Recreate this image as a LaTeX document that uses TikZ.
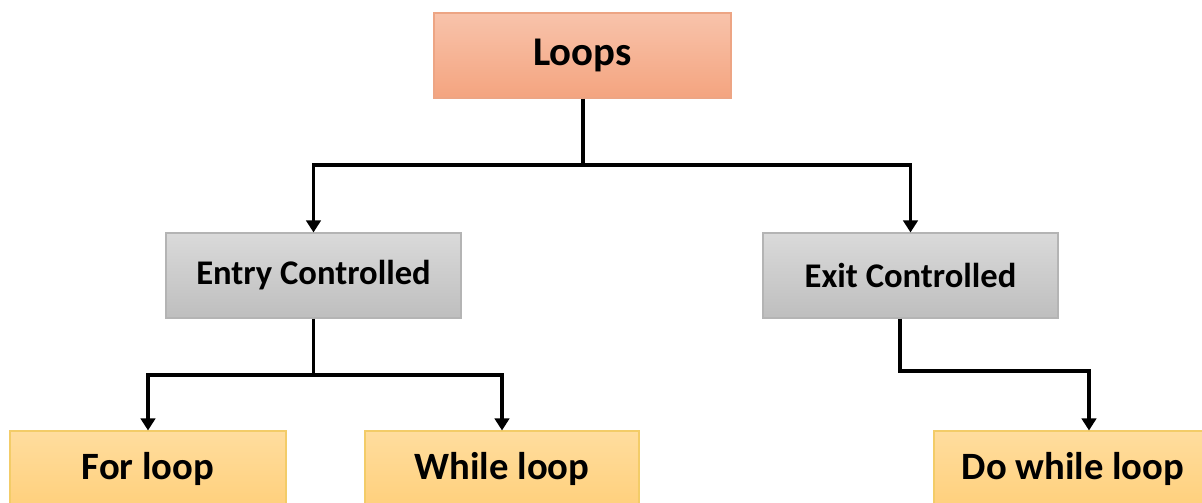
\documentclass[tikz,border=0pt]{standalone}
\usepackage{fontspec}
\setmainfont{Carlito}
\usetikzlibrary{arrows.meta}

\definecolor{peachtop}{HTML}{F8C3AB}
\definecolor{peachbot}{HTML}{F4A47F}
\definecolor{peachline}{HTML}{EDA584}
\definecolor{graytop}{HTML}{DADADA}
\definecolor{graybot}{HTML}{BEBEBE}
\definecolor{grayline}{HTML}{B4B4B4}
\definecolor{yellowtop}{HTML}{FFDD9E}
\definecolor{yellowbot}{HTML}{FFD07C}
\definecolor{yellowline}{HTML}{F3CC68}

\tikzset{
  loopsbox/.style={rectangle, draw=peachline, line width=0.8pt, top color=peachtop, bottom color=peachbot,
    minimum width=297*0.025cm, minimum height=85*0.025cm, inner sep=0pt,
    font=\fontsize{29}{34}\selectfont\bfseries},
  ctrlbox/.style={rectangle, draw=grayline, line width=0.8pt, top color=graytop, bottom color=graybot,
    minimum width=295*0.025cm, minimum height=85*0.025cm, inner sep=0pt,
    font=\fontsize{24.6}{29}\selectfont\bfseries},
  leafbox/.style={rectangle, draw=yellowline, line width=0.8pt, top color=yellowtop, bottom color=yellowbot,
    minimum height=76*0.025cm, inner sep=0pt,
    font=\fontsize{27.5}{32}\selectfont\bfseries},
  link/.style={line width=2.2pt, black},
  arrowlink/.style={link, -{Triangle[length=0.3cm,width=0.36cm]}}
}

\begin{document}
\begin{tikzpicture}[x=0.025cm,y=-0.025cm]
    % Khung ảnh
    \path[use as bounding box] (0,0) rectangle (1202,502);
    \clip (0,0) rectangle (1202,502);

    % Nút gốc
    \node[loopsbox] (loops) at (582.5,55.5) {Loops};

    % Hai nhánh điều khiển
    \node[ctrlbox] (entry) at (313.5,275.5) {Entry Controlled};
    \node[ctrlbox] (exit) at (910.5,275.5) {Exit Controlled};

    % Các vòng lặp
    \node[leafbox, minimum width=276*0.025cm] (forloop) at (148,469) {For loop};
    \node[leafbox, minimum width=274*0.025cm] (whileloop) at (502,469) {While loop};
    \node[leafbox, minimum width=278*0.025cm] (dowhile) at (1073,469) {Do while loop};

    % Điểm rẽ nhánh
    \coordinate (jtop) at (583,165);
    \coordinate (jentry) at (313.5,375);
    \coordinate (xbend) at (900,371);
    \coordinate (xdrop) at (1089,371);

    % Nối Loops
    \draw[link] (loops.south -| jtop) -- (jtop);
    \draw[arrowlink] (jtop) -| (entry.north);
    \draw[arrowlink] (jtop) -| (exit.north);

    % Nối Entry Controlled
    \draw[link] (entry.south) -- (jentry);
    \draw[arrowlink] (jentry) -| (forloop.north);
    \draw[arrowlink] (jentry) -| (whileloop.north);

    % Nối Exit Controlled
    \draw[arrowlink] (xbend |- exit.south) -- (xbend) -- (xdrop) -- (xdrop |- dowhile.north);
\end{tikzpicture}
\end{document}
